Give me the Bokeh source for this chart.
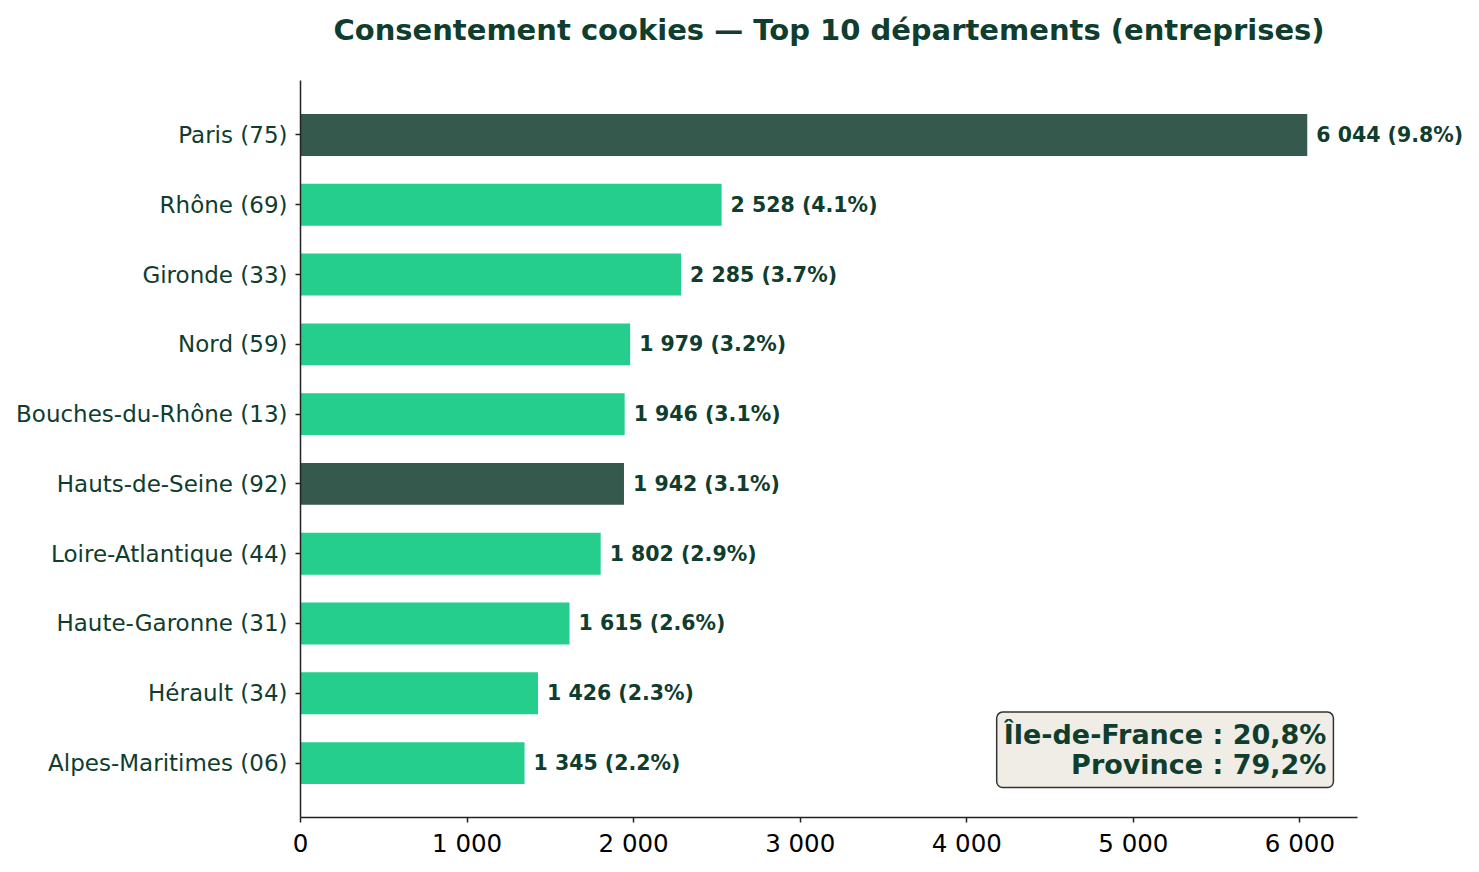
from bokeh.plotting import figure
from bokeh.models import Range1d, FixedTicker, ColumnDataSource, Label
from bokeh.embed import file_html
from bokeh.resources import INLINE

departements = ["Paris (75)", "Rhône (69)", "Gironde (33)", "Nord (59)", "Bouches-du-Rhône (13)",
                "Hauts-de-Seine (92)", "Loire-Atlantique (44)", "Haute-Garonne (31)", "Hérault (34)",
                "Alpes-Maritimes (06)"]
entreprises = [6044, 2528, 2285, 1979, 1946, 1942, 1802, 1615, 1426, 1345]
parts = [9.8, 4.1, 3.7, 3.2, 3.1, 3.1, 2.9, 2.6, 2.3, 2.2]
ile_de_france = [True, False, False, False, False, True, False, False, False, False]
x_ticks = [0, 1000, 2000, 3000, 4000, 5000, 6000]
x_tick_labels = ["0", "1 000", "2 000", "3 000", "4 000", "5 000", "6 000"]
titre = "Consentement cookies — Top 10 départements (entreprises)"
synthese = "Île-de-France : 20,8%\nProvince : 79,2%"

DARK = "#0f3d2e"
n = len(departements)
ys = [n - 1 - i for i in range(n)]
colors = ["#35594d" if f else "#25ce8d" for f in ile_de_france]
labels = [f"{v:,}".replace(",", " ") + f" ({p}%)" for v, p in zip(entreprises, parts)]

src = ColumnDataSource(dict(y=ys, v=entreprises, c=colors, lab=labels))

# axes extents (the frame is larger; axis lines are bounded to these)
x_axis_end = 6346
y_lo, y_hi = -0.78, n - 1 + 0.78
px_per_unit = (817 - 80) / (y_hi - y_lo)
top_pad = 5
y_top = y_hi + (80 - top_pad) / px_per_unit

p = figure(width=1479, height=872, output_backend="svg", toolbar_location=None,
           x_range=Range1d(0, 7018), y_range=Range1d(y_lo, y_top),
           min_border_left=300, min_border_right=10, min_border_top=top_pad, min_border_bottom=55)

p.add_layout(Label(x=x_axis_end / 2, y=y_hi + (80 - 29) / px_per_unit, text=titre,
                   text_align="center", text_baseline="middle", text_font="DejaVu Sans",
                   text_font_size="29px", text_font_style="bold", text_color=DARK))

p.hbar(y="y", right="v", left=0, height=0.6, color="c", line_color=None, source=src)
for yv, v, lab in zip(ys, entreprises, labels):
    p.add_layout(Label(x=v, y=yv, text=lab, x_offset=9, text_baseline="middle",
                       text_align="left", text_font="DejaVu Sans", text_font_size="20.5px",
                       text_font_style="bold", text_color=DARK))

p.xgrid.visible = False
p.ygrid.visible = False
p.outline_line_color = None

p.xaxis.ticker = FixedTicker(ticks=x_ticks)
p.xaxis.bounds = (0, x_axis_end)
p.xaxis.major_label_overrides = {t: l for t, l in zip(x_ticks, x_tick_labels)}
p.yaxis.ticker = FixedTicker(ticks=ys)
p.yaxis.bounds = (y_lo, y_hi)
p.yaxis.major_label_overrides = {y: d for y, d in zip(ys, departements)}
for ax in (p.xaxis[0], p.yaxis[0]):
    ax.axis_line_color = "#222222"
    ax.axis_line_width = 1.5
    ax.major_tick_line_color = "#222222"
    ax.major_tick_line_width = 1.5
    ax.major_tick_out = 5
    ax.major_tick_in = 0
    ax.minor_tick_line_color = None
    ax.major_label_text_font = "DejaVu Sans"
p.xaxis.major_label_text_font_size = "24.5px"
p.xaxis.major_label_text_color = "#000000"
p.xaxis.major_label_standoff = 6
p.yaxis.major_label_text_font_size = "23px"
p.yaxis.major_label_text_color = DARK
p.yaxis.major_label_standoff = 8

box = Label(x=6201, y=-0.35, text=synthese, text_align="right", text_baseline="bottom",
            text_font="DejaVu Sans", text_font_size="27px", text_font_style="bold",
            text_color=DARK, background_fill_color="#f0ede6", border_line_color="#333333",
            border_line_width=1.5, padding=7, border_radius=6, text_line_height=0.98)
p.add_layout(box)

open("out.html", "w").write(file_html(p, INLINE))
